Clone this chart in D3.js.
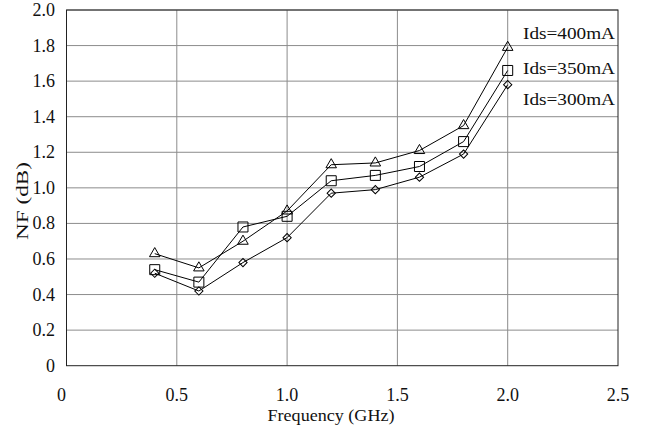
<!DOCTYPE html>
<html>
<head>
<meta charset="utf-8">
<script src="https://cdn.jsdelivr.net/npm/d3@7"></script>
<style>
  body { margin: 0; background: #fff; }
  text { font-family: "Times New Roman", Times, "Liberation Serif", serif; fill: #111; }
</style>
</head>
<body>
<div id="chart"></div>
<script>
const freqs = [0.4, 0.6, 0.8, 1.0, 1.2, 1.4, 1.6, 1.8, 2.0];
const nf400 = [0.63, 0.55, 0.70, 0.87, 1.13, 1.14, 1.21, 1.35, 1.79];
const nf350 = [0.54, 0.47, 0.78, 0.84, 1.04, 1.07, 1.12, 1.26, 1.66];
const nf300 = [0.52, 0.42, 0.58, 0.72, 0.97, 0.99, 1.06, 1.19, 1.58];
const seriesNames = ["Ids=400mA", "Ids=350mA", "Ids=300mA"];
const xTicks = [0, 0.5, 1.0, 1.5, 2.0, 2.5];
const yTicks = [0, 0.2, 0.4, 0.6, 0.8, 1.0, 1.2, 1.4, 1.6, 1.8, 2.0];

const width = 651, height = 430;
const margin = { left: 66.5, right: 33, top: 10, bottom: 64.3 };

const svg = d3.select("#chart").append("svg")
  .attr("width", width)
  .attr("height", height);

const x = d3.scaleLinear().domain([0, 2.5]).range([margin.left, width - margin.right]);
const y = d3.scaleLinear().domain([0, 2.0]).range([height - margin.bottom, margin.top]);

// grid
svg.append("g")
  .selectAll("line")
  .data(yTicks.slice(1))
  .join("line")
  .attr("x1", x(0)).attr("x2", x(2.5))
  .attr("y1", d => y(d)).attr("y2", d => y(d))
  .attr("stroke", "#8c8c8c").attr("stroke-width", 1);

svg.append("g")
  .selectAll("line")
  .data(xTicks.slice(1, -1))
  .join("line")
  .attr("x1", d => x(d)).attr("x2", d => x(d))
  .attr("y1", y(0)).attr("y2", y(2))
  .attr("stroke", "#8c8c8c").attr("stroke-width", 1);

// frame
svg.append("rect")
  .attr("x", x(0)).attr("y", y(2))
  .attr("width", x(2.5) - x(0)).attr("height", y(0) - y(2))
  .attr("fill", "none").attr("stroke", "#222").attr("stroke-width", 1);

// tick labels
const fmt = d => d === 0 ? "0" : d.toFixed(1);
svg.append("g")
  .selectAll("text")
  .data(yTicks)
  .join("text")
  .attr("x", 55)
  .attr("y", d => y(d) + 6)
  .attr("text-anchor", "end")
  .attr("font-size", 18)
  .text(fmt);

svg.append("g")
  .selectAll("text")
  .data(xTicks)
  .join("text")
  .attr("x", d => x(d) - (d === 0 ? 5 : 0))
  .attr("y", 401)
  .attr("text-anchor", "middle")
  .attr("font-size", 18)
  .text(fmt);

svg.append("text")
  .attr("x", 331).attr("y", 421)
  .attr("text-anchor", "middle")
  .attr("font-size", 16)
  .attr("textLength", 127)
  .attr("lengthAdjust", "spacingAndGlyphs")
  .text("Frequency (GHz)");

svg.append("text")
  .attr("transform", "translate(28,201) rotate(-90)")
  .attr("text-anchor", "middle")
  .attr("font-size", 16)
  .attr("textLength", 78)
  .attr("lengthAdjust", "spacingAndGlyphs")
  .text("NF (dB)");

// series: triangle, square, diamond (square turned 45deg)
const series = [nf400, nf350, nf300].map((vals, i) => ({
  name: seriesNames[i],
  points: freqs.map((f, j) => ({ f, v: vals[j] })),
  symbol: [d3.symbolTriangle, d3.symbolSquare, d3.symbolSquare][i],
  size: [48, 100, 34][i],
  rot: [0, 0, 45][i]
}));

const line = d3.line().x(d => x(d.f)).y(d => y(d.v));

series.forEach(s => {
  svg.append("path")
    .datum(s.points)
    .attr("fill", "none")
    .attr("stroke", "#000")
    .attr("stroke-width", 1)
    .attr("d", line);

  svg.append("g")
    .selectAll("path")
    .data(s.points)
    .join("path")
    .attr("transform", d => `translate(${x(d.f)},${y(d.v)}) rotate(${s.rot})`)
    .attr("d", d3.symbol().type(s.symbol).size(s.size))
    .attr("fill", "none")
    .attr("stroke", "#000")
    .attr("stroke-width", 1);
});

// labels
svg.append("g")
  .selectAll("text")
  .data(seriesNames)
  .join("text")
  .attr("x", 615)
  .attr("y", (d, i) => [39, 74, 105][i])
  .attr("text-anchor", "end")
  .attr("font-size", 17)
  .attr("textLength", 92)
  .attr("lengthAdjust", "spacingAndGlyphs")
  .text(d => d);
</script>
</body>
</html>
